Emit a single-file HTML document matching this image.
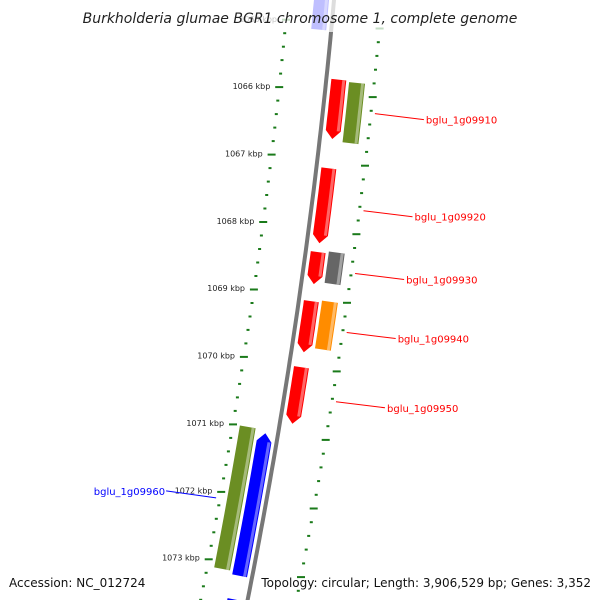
<!DOCTYPE html>
<html><head><meta charset="utf-8"><style>
html,body{margin:0;background:#fff;width:600px;height:600px;overflow:hidden}
svg{display:block;overflow:hidden;font-family:"DejaVu Sans","Liberation Sans",sans-serif}
</style></head><body>
<svg id="c" width="600" height="600" viewBox="0 0 600 600">
<g id="ticks"></g>
<path id="bb" fill="none" stroke="#777" stroke-width="4"/>
<g id="genes"></g>
<g id="labels"></g>
<rect x="0" y="0" width="600" height="32" fill="#fff" opacity="0.75"/>
<text x="300" y="23" text-anchor="middle" font-size="14" font-style="italic" fill="#222">Burkholderia glumae BGR1 chromosome 1, complete genome</text>
<text x="9" y="587" font-size="12" fill="#111">Accession: NC_012724</text>
<text x="591" y="587" text-anchor="end" font-size="12" fill="#111">Topology: circular; Length: 3,906,529 bp; Genes: 3,352</text>
</svg>
<script>
const tickKbp=[1065,1066,1067,1068,1069,1070,1071,1072,1073,1074];
const geneNames=["","bglu_1g09910","","bglu_1g09920","bglu_1g09930","","bglu_1g09940","","bglu_1g09950","","bglu_1g09960",""];
const geneStart=[1064.3,1065.8,1065.82,1067.1,1068.33,1068.3,1069.05,1069.02,1070.02,1071.0,1071.05,1073.5];
const geneEnd=[1065.1,1066.67,1066.7,1068.2,1068.8,1068.76,1069.8,1069.72,1070.85,1073.1,1073.15,1074.0];
const geneTrack=[-1,1,2,1,1,2,1,2,1,-2,-1,-1];
const geneArrow=[0,1,0,1,1,0,1,0,1,0,-1,0];
const geneColor=["#0000ff","#ff0000","#6b8e23","#ff0000","#ff0000","#666666","#ff0000","#ff8c00","#ff0000","#6b8e23","#0000ff","#0000ff"];
const NS="http://www.w3.org/2000/svg";
function yOf(k){return 92+(k-1066)*68;}
function bx(y){return 334-0.09*y-0.00009*y*y;}
function pt(k,off){const y=yOf(k);const s=-0.09-0.00018*y;const n=Math.sqrt(1+s*s);return [bx(y)+off/n,y-off*s/n];}
function mk(tag,attrs,parent){const e=document.createElementNS(NS,tag);for(const a in attrs)e.setAttribute(a,attrs[a]);parent.appendChild(e);return e;}
let d="";for(let y=-10;y<=610;y+=10){d+=(y<0?"M":"L")+bx(y).toFixed(1)+","+y+" ";}
document.getElementById('bb').setAttribute('d',d);
const tg=document.getElementById('ticks');
for(let i=0;i<tickKbp.length-1;i++){
  for(let j=0;j<5;j++){
    const k=tickKbp[i]+j*0.2;
    for(const off of [-46,48]){
      const p=pt(k,off);const w=j==0?8:3;
      const r=mk('rect',{x:(p[0]-w/2).toFixed(1),y:(p[1]-1).toFixed(1),width:w,height:2,fill:'#1a7a1a'},tg);
      
      
    }
  }
  const p=pt(tickKbp[i],-55);
  const t=mk('text',{x:p[0].toFixed(1),y:(p[1]+3).toFixed(1),'text-anchor':'end','font-size':'8',fill:'#222'},tg);
  t.textContent=tickKbp[i]+' kbp';
  
  
}
const gg=document.getElementById('genes');const lg=document.getElementById('labels');
function lighten(c){const v=parseInt(c.slice(1),16);let r=v>>16,g=(v>>8)&255,b=v&255;r=Math.round(r+(255-r)*0.5);g=Math.round(g+(255-g)*0.5);b=Math.round(b+(255-b)*0.5);return `rgb(${r},${g},${b})`;}
for(let i=0;i<geneStart.length;i++){
  const tr=geneTrack[i];const sgn=Math.sign(tr);
  const a=Math.abs(tr)==1?[5,20]:[23,39];
  const o1=sgn*a[0],o2=sgn*a[1];
  let s=geneStart[i],e=geneEnd[i];const tip=0.12;
  let bs=s,be=e;if(geneArrow[i]==1)be=e-tip;if(geneArrow[i]==-1)bs=s+tip;
  const N=8;const L=[],R=[];
  for(let q=0;q<=N;q++){const k=bs+(be-bs)*q/N;L.push(pt(k,o1));R.push(pt(k,o2));}
  let pts=[];
  if(geneArrow[i]==-1)pts.push(pt(s,(o1+o2)/2));
  pts=pts.concat(L);
  if(geneArrow[i]==1)pts.push(pt(e,(o1+o2)/2));
  pts=pts.concat(R.reverse());
  const g=mk('polygon',{points:pts.map(p=>p[0].toFixed(1)+","+p[1].toFixed(1)).join(" "),fill:geneColor[i]},gg);
  
  
  const ho1=Math.max(o1,o2)-4,ho2=Math.max(o1,o2)-1;const H1=[],H2=[];
  for(let q=0;q<=N;q++){const k=bs+(be-bs)*q/N;H1.push(pt(k,ho1));H2.push(pt(k,ho2));}
  const hp=H1.concat(H2.reverse());
  const h=mk('polygon',{points:hp.map(p=>p[0].toFixed(1)+","+p[1].toFixed(1)).join(" "),fill:lighten(geneColor[i]),opacity:0.8},gg);
  
  
  if(geneNames[i]){
    const km=(s+e)/2;
    if(sgn>0){
      const p=pt(km,52);const lx=p[0]+49,ly=p[1]+6;
      const ln=mk('line',{x1:p[0].toFixed(1),y1:p[1].toFixed(1),x2:lx.toFixed(1),y2:ly.toFixed(1),stroke:'#f00','stroke-width':1},lg);
      
      
      const t=mk('text',{x:(lx+2).toFixed(1),y:(ly+4).toFixed(1),'font-size':'10',fill:'#f00'},lg);
      t.textContent=geneNames[i];
      
      
    } else {
      const p=pt(km,-50);const lx=p[0]-50,ly=p[1]-7;
      const ln=mk('line',{x1:p[0].toFixed(1),y1:p[1].toFixed(1),x2:lx.toFixed(1),y2:ly.toFixed(1),stroke:'#00f','stroke-width':1},lg);
      
      
      const t=mk('text',{x:(lx-1).toFixed(1),y:(ly+4).toFixed(1),'text-anchor':'end','font-size':'10',fill:'#00f'},lg);
      t.textContent=geneNames[i];
      
      
    }
  }
}
</script>
</body></html>
